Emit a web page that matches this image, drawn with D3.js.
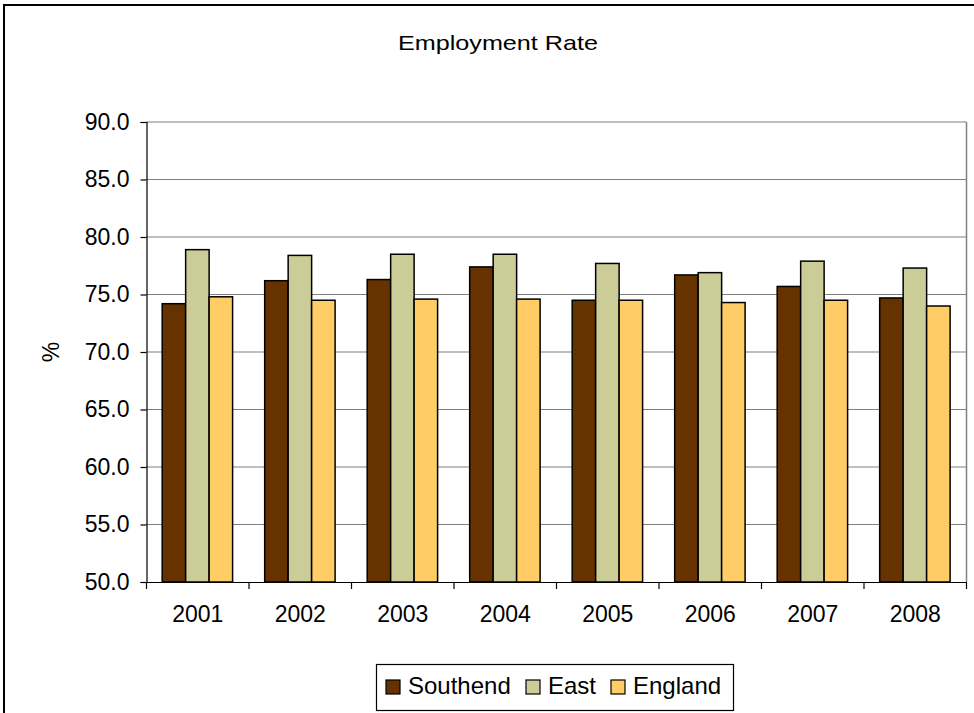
<!DOCTYPE html>
<html>
<head>
<meta charset="utf-8">
<script src="https://cdn.jsdelivr.net/npm/d3@7"></script>
<style>
  html, body { margin: 0; padding: 0; background: #fff; }
  svg { display: block; font-family: "Liberation Sans", Arial, sans-serif; }
</style>
</head>
<body>
<script>
const years = ["2001","2002","2003","2004","2005","2006","2007","2008"];
const seriesNames = ["Southend","East","England"];
const southend = [74.2, 76.2, 76.3, 77.4, 74.5, 76.7, 75.7, 74.7];
const east     = [78.9, 78.4, 78.5, 78.5, 77.7, 76.9, 77.9, 77.3];
const england  = [74.8, 74.5, 74.6, 74.6, 74.5, 74.3, 74.5, 74.0];
const yTicks = [50, 55, 60, 65, 70, 75, 80, 85, 90];
const colors = ["#663300", "#CCCC99", "#FFCC66"];

const W = 974, H = 713;
const svg = d3.select("body").append("svg").attr("width", W).attr("height", H);

// outer chart border
svg.append("rect").attr("x", 4).attr("y", 5).attr("width", 1000).attr("height", 800)
  .attr("fill", "#fff").attr("stroke", "#000").attr("stroke-width", 2);

const plot = {left: 146.5, right: 966.5, top: 122, bottom: 582};

const x = d3.scaleBand().domain(years).range([plot.left, plot.right]).padding(0);
const bw = x.bandwidth();
const xs = d3.scaleBand().domain(seriesNames).range([bw * 0.153, bw * 0.84]).padding(0);
const y = d3.scaleLinear().domain([50, 90]).range([plot.bottom, plot.top]);

// gridlines
svg.append("g").selectAll("line").data(yTicks.filter(t => t > 50)).join("line")
  .attr("x1", plot.left).attr("x2", plot.right)
  .attr("y1", d => y(d)).attr("y2", d => y(d))
  .attr("stroke", "#808080").attr("stroke-width", 1.2);
// right plot border
svg.append("line").attr("x1", plot.right).attr("x2", plot.right)
  .attr("y1", plot.top).attr("y2", plot.bottom)
  .attr("stroke", "#808080").attr("stroke-width", 1.5);

// bars
const data = [southend, east, england];
const groups = svg.append("g").selectAll("g").data(seriesNames).join("g")
  .attr("fill", (d, i) => colors[i]);
groups.selectAll("rect").data((s, i) => years.map((yr, j) => ({yr, v: data[i][j], s}))).join("rect")
  .attr("x", d => x(d.yr) + xs(d.s))
  .attr("y", d => y(d.v))
  .attr("width", xs.bandwidth())
  .attr("height", d => y(50) - y(d.v))
  .attr("stroke", "#000").attr("stroke-width", 1.5);

// y axis
const yAxis = d3.axisLeft(y).tickValues(yTicks).tickFormat(d3.format(".1f")).tickSizeOuter(0).tickSize(6).tickPadding(11);
const yg = svg.append("g").attr("transform", `translate(${plot.left},0)`).call(yAxis);
yg.select(".domain").attr("stroke", "#000").attr("stroke-width", 1.2);
yg.selectAll(".tick line").attr("stroke", "#000").attr("stroke-width", 1.2);
yg.selectAll(".tick text").attr("font-size", 23).attr("fill", "#000")
  .attr("font-family", "Liberation Sans, Arial, sans-serif");

// x axis
const xAxis = d3.axisBottom(x).tickSize(0).tickPadding(24);
const xg = svg.append("g").attr("transform", `translate(0,${plot.bottom})`).call(xAxis);
xg.select(".domain").attr("stroke", "#000").attr("stroke-width", 1.2);
xg.selectAll(".tick text").attr("font-size", 23).attr("fill", "#000")
  .attr("font-family", "Liberation Sans, Arial, sans-serif");
// category boundary ticks
svg.append("g").selectAll("line").data(years.concat(["end"])).join("line")
  .attr("x1", (d, i) => plot.left + i * bw).attr("x2", (d, i) => plot.left + i * bw)
  .attr("y1", plot.bottom).attr("y2", plot.bottom + 7)
  .attr("stroke", "#000").attr("stroke-width", 1.2);

// title
svg.append("text").attr("x", 498).attr("y", 50).attr("text-anchor", "middle")
  .attr("font-size", 21).attr("textLength", 200).attr("lengthAdjust", "spacingAndGlyphs")
  .text("Employment Rate");

// y label
svg.append("text").attr("transform", "translate(59,352) rotate(-90)")
  .attr("text-anchor", "middle").attr("font-size", 23).text("%");

// legend
const lg = svg.append("g");
lg.append("rect").attr("x", 376.5).attr("y", 664.5).attr("width", 357).attr("height", 46)
  .attr("fill", "#fff").attr("stroke", "#000").attr("stroke-width", 1.2);
const legendPos = [{sx: 386, tx: 408}, {sx: 526, tx: 548}, {sx: 611, tx: 633}];
seriesNames.forEach((n, i) => {
  lg.append("rect").attr("x", legendPos[i].sx).attr("y", 680).attr("width", 14).attr("height", 14)
    .attr("fill", colors[i]).attr("stroke", "#000").attr("stroke-width", 1.2);
  lg.append("text").attr("x", legendPos[i].tx).attr("y", 694).attr("font-size", 24).text(n);
});
</script>
</body>
</html>
